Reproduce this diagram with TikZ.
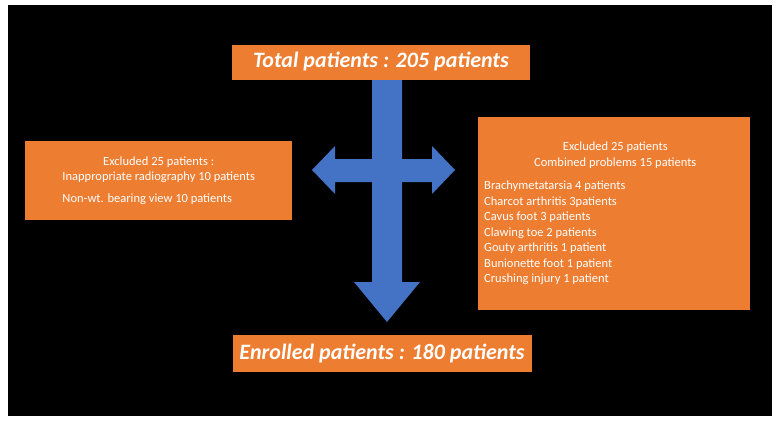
\documentclass[tikz,border=0pt]{standalone}
\usepackage{fontspec}
\setmainfont{Carlito}
\definecolor{boxorange}{HTML}{ED7D31}
\definecolor{arrowblue}{HTML}{4472C4}
\begin{document}
\begin{tikzpicture}
    [x=1pt,y=-1pt,
    titlebox/.style={fill=boxorange, text=white, font=\fontsize{22}{26}\selectfont\bfseries\itshape, inner sep=4pt},
    infobox/.style={fill=boxorange, text=white, font=\fontsize{12.5}{15.5}\selectfont, inner sep=6pt}]
    \fill[white] (0,0) rectangle (781,423);
    \fill[black] (8,5) rectangle (772,416);
    % the cross of arrows
    \fill[arrowblue] (372,80) -- (402,80) -- (402,282) -- (420,282) -- (387,322)
        -- (354,282) -- (372,282) -- cycle;
    \fill[arrowblue] (372,159) -- (335,159) -- (335,146) -- (312,170) -- (335,194)
        -- (335,182) -- (372,182) -- cycle;
    \fill[arrowblue] (402,159) -- (432,159) -- (432,146) -- (455,170) -- (432,194)
        -- (432,182) -- (402,182) -- cycle;
    % boxes
    \node[titlebox, minimum width=298pt, minimum height=35pt] (total) at (381,62) {Total patients : 205 patients};
    \node[titlebox, minimum width=299pt, minimum height=37pt] (enrolled) at (382,353) {Enrolled patients : 180 patients};
    \node[infobox, minimum width=267pt, minimum height=79pt, anchor=north west] (left) at (25,141)
        {\begin{tabular}{@{}l@{}}
        \multicolumn{1}{@{}c@{}}{Excluded 25 patients :}\\
        \multicolumn{1}{@{}c@{}}{Inappropriate radiography 10 patients}\\[6pt]
        Non-wt. bearing view 10 patients
        \end{tabular}};
    \node[infobox, minimum width=265pt, minimum height=193pt, anchor=north west] (right) at (478,117)
        {\begin{tabular}{@{}l@{}}
        \multicolumn{1}{@{}c@{}}{\hspace*{50pt}Excluded 25 patients}\\
        \multicolumn{1}{@{}c@{}}{\hspace*{50pt}Combined problems 15 patients}\\[8pt]
        Brachymetatarsia 4 patients\\
        Charcot arthritis 3patients\\
        Cavus foot 3 patients\\
        Clawing toe 2 patients\\
        Gouty arthritis 1 patient\\
        Bunionette foot 1 patient\\
        Crushing injury 1 patient\\
        \end{tabular}\hspace*{48pt}};
\end{tikzpicture}
\end{document}
